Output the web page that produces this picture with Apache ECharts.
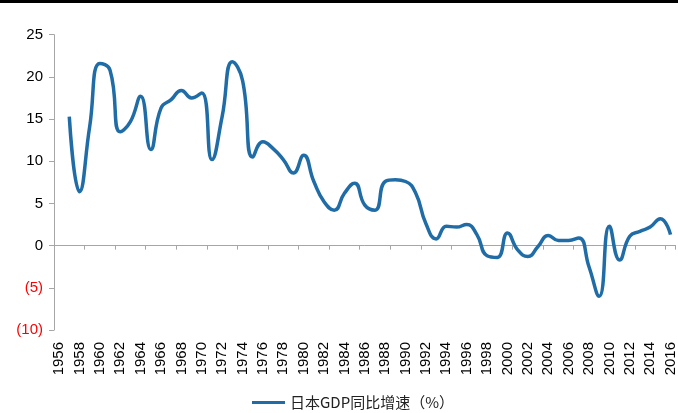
<!DOCTYPE html>
<html>
<head>
<meta charset="utf-8">
<script src="https://cdn.jsdelivr.net/npm/echarts@6/dist/echarts.min.js"></script>
<style>
  html, body { margin: 0; padding: 0; background: #fff; }
  #main { width: 678px; height: 413px; }
</style>
</head>
<body>
<div id="main"></div>
<script>
// 年份（横轴类目）
var years = [];
for (var y = 1956; y <= 2016; y++) { years.push(String(y)); }

// 日本GDP同比增速（%），1956 无数据
var gdpGrowth = [
  null, 15.3, 6.4, 14.1, 21.6, 20.8, 13.5, 14.7, 17.7, 11.4,
  16.3, 17.3, 18.4, 17.5, 18.1, 10.2, 15.3, 21.8, 19.6, 10.5,
  12.3, 11.5, 10.2, 8.6, 10.7, 7.6, 5.2, 4.2, 6.2, 7.4,
  4.8, 4.2, 7.6, 7.8, 7.6, 6.2, 2.6, 0.8, 2.3, 2.2,
  2.5, 1.3, -1.2, -1.4, 1.5, -0.5, -1.3, -0.1, 1.2, 0.6,
  0.6, 0.9, -2.5, -6.0, 2.3, -1.7, 1.1, 1.7, 2.2, 3.2,
  1.3
];

var seriesName = '日本GDP同比增速（%）';

var chart = echarts.init(document.getElementById('main'));
var option = {
    animation: false,
    textStyle: { fontFamily: 'Liberation Sans, Arial, sans-serif' },
    graphic: [
        { type: 'rect', left: 0, top: 0, shape: { width: 678, height: 3 }, style: { fill: '#000' } }
    ],
    grid: { left: 54, right: 0, top: 34.7, bottom: 83 },
    legend: {
        left: 247,
        top: 390,
        icon: 'rect',
        itemWidth: 33,
        itemHeight: 3,
        itemGap: 5,
        textStyle: {
            fontSize: 15,
            color: '#222',
            fontFamily: 'Noto Sans CJK SC, Liberation Sans, sans-serif'
        },
        data: [seriesName]
    },
    xAxis: [
        {   // 底部年份标签
            type: 'category',
            data: years,
            boundaryGap: true,
            position: 'bottom',
            axisLine: { show: false, onZero: false },
            axisTick: { show: false },
            axisLabel: {
                interval: 1,
                rotate: 90,
                fontSize: 15,
                color: '#000',
                margin: 12
            },
            splitLine: { show: false }
        },
        {   // 零轴线
            type: 'category',
            data: years,
            boundaryGap: true,
            position: 'bottom',
            axisLine: { show: true, onZero: true, lineStyle: { color: '#a6a6a6', width: 1 } },
            axisTick: { show: true, interval: 2, length: 4, lineStyle: { color: '#a6a6a6' } },
            axisLabel: { show: false },
            splitLine: { show: false }
        }
    ],
    yAxis: {
        type: 'value',
        min: -10,
        max: 25,
        interval: 5,
        axisLine: { show: true, lineStyle: { color: '#a6a6a6', width: 1 } },
        axisTick: { show: true, length: 5, lineStyle: { color: '#a6a6a6' } },
        splitLine: { show: false },
        axisLabel: {
            fontSize: 15,
            margin: 11,
            formatter: function (v) {
                return v < 0 ? '{neg|(' + Math.abs(v) + ')}' : String(v);
            },
            color: '#000',
            rich: { neg: { color: '#ff0000', fontSize: 15 } }
        }
    },
    series: [
        {
            name: seriesName,
            type: 'line',
            xAxisIndex: 0,
            data: gdpGrowth,
            smooth: 0.5,
            showSymbol: false,
            symbol: 'none',
            connectNulls: false,
            lineStyle: { color: '#1f6ca6', width: 3.5 },
            itemStyle: { color: '#1f6ca6' }
        }
    ]
};
chart.setOption(option);
</script>
</body>
</html>
